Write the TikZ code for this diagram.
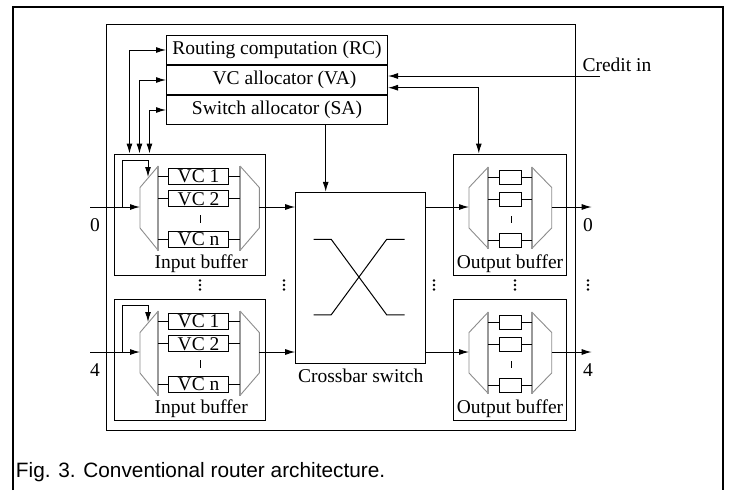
\documentclass[tikz,border=0pt]{standalone}
\usepackage{fontspec}
\setmainfont{Liberation Serif}
\newfontfamily\capfont{Liberation Sans}
\usetikzlibrary{arrows.meta, positioning, calc}

\begin{document}
\begin{tikzpicture}[x=1pt, y=-1pt, line width=1pt,
    >={Latex[length=10pt,width=6pt]},
    lbl/.style={font=\fontsize{19.5}{22}\selectfont, inner sep=1pt},
    box/.style={lbl, draw, inner sep=0pt},
    muxline/.style={draw=black!45, line width=0.9pt, line join=round},
    muxedge/.style={draw=black!40, line width=1.8pt}]
  \useasboundingbox (0,0) rectangle (730,490);
  % Frames
  \draw[line width=1.8pt] (13.3,490) -- (13.3,7.3) -- (723.3,7.3) -- (723.3,490);
  \draw (106.7,24) rectangle (575,430);
  % Allocators
  \node[box, minimum width=221pt, minimum height=29pt] (rc) at (277,50) {Routing computation (RC)};
  \node[box, minimum width=221pt, minimum height=29pt, below=0pt of rc] (va) {\hspace*{15pt}VC allocator (VA)};
  \node[box, minimum width=221pt, minimum height=29pt, below=0pt of va] (sa) {Switch allocator (SA)};
  % Crossbar
  \node[box, minimum width=130pt, minimum height=171pt] (xbar) at (360.7,277.8) {};
  \node[lbl, below=3.5pt of xbar] (xbarlbl) {Crossbar switch};
  \draw[shift={(xbar.center)}] (-47,-38.5) -- (-29.5,-38.5) -- (26,37) -- (44,37);
  \draw[shift={(xbar.center)}] (-47,37) -- (-29.5,37) -- (26,-38.5) -- (44,-38.5);
  % Buffers (two rows)
  \foreach \r/\dy/\port in {a/0/0, b/145/4} {
    % input buffer
    \node[box, minimum width=151.5pt, minimum height=121pt] (inbuf\r) at (190.2,214.5+\dy) {};
    \node[lbl, anchor=south] (inlbl\r) at ([xshift=11pt,yshift=1pt]inbuf\r.south) {Input buffer};
    \draw[muxline] (158.3,166+\dy) -- (140,187.5+\dy) -- (140,228+\dy) -- (158.3,250.5+\dy);
    \draw[muxedge] (158.3,166+\dy) -- (158.3,250.5+\dy);
    \draw[muxline] (240,166+\dy) -- (259.3,187.5+\dy) -- (259.3,228+\dy) -- (240,250.5+\dy);
    \draw[muxedge] (240,166+\dy) -- (240,250.5+\dy);
    \node[box, minimum width=60.5pt, minimum height=15.6pt] (vc1\r) at (198.6,176.2+\dy) {VC 1};
    \node[box, minimum width=60.5pt, minimum height=15.6pt] (vc2\r) at (198.6,198.7+\dy) {VC 2};
    \node[box, minimum width=60.5pt, minimum height=15.6pt] (vcn\r) at (198.6,239.5+\dy) {VC n};
    \coordinate (dmx\r) at (158.3,207+\dy);
    \coordinate (mux\r) at (240,207+\dy);
    \foreach \v in {vc1,vc2,vcn} {
      \draw (\v\r.west -| dmx\r) -- (\v\r.west);
      \draw (\v\r.east) -- (\v\r.east -| mux\r);
    }
    \draw (200,215+\dy) -- (200,223+\dy);
    % input port
    \coordinate (in\r) at (90,207+\dy);
    \coordinate (dmxin\r) at (140,207+\dy);
    \coordinate (fb\r) at (122,207+\dy);
    \draw[->] (in\r) -- (dmxin\r);
    \draw[->] (fb\r) |- ++(26,-47) -- ++(0,17);
    \node[lbl] (inport\r) at (95,225+\dy) {\port};
    \coordinate (muxout\r) at (259.3,207+\dy);
    \draw[->] (muxout\r) -- (muxout\r -| xbar.west);
    % output buffer
    \node[box, minimum width=113.4pt, minimum height=121pt] (outbuf\r) at (510,214.5+\dy) {};
    \node[lbl, anchor=south] (outlbl\r) at ([yshift=1pt]outbuf\r.south) {Output buffer};
    \draw[muxline] (488.3,167+\dy) -- (469,187.5+\dy) -- (469,228+\dy) -- (488.3,248.5+\dy);
    \draw[muxedge] (488.3,167+\dy) -- (488.3,248.5+\dy);
    \draw[muxline] (531.7,167+\dy) -- (551.7,187.5+\dy) -- (551.7,228+\dy) -- (531.7,248.5+\dy);
    \draw[muxedge] (531.7,167+\dy) -- (531.7,248.5+\dy);
    \node[box, minimum width=21.7pt, minimum height=14pt] (ob1\r) at (510.8,177+\dy) {};
    \node[box, minimum width=21.7pt, minimum height=14pt] (ob2\r) at (510.8,199.5+\dy) {};
    \node[box, minimum width=21.7pt, minimum height=14pt] (obn\r) at (510.8,240.5+\dy) {};
    \coordinate (odmx\r) at (488.3,207+\dy);
    \coordinate (omx\r) at (531.7,207+\dy);
    \foreach \v in {ob1,ob2,obn} {
      \draw (\v\r.west -| odmx\r) -- (\v\r.west);
      \draw (\v\r.east) -- (\v\r.east -| omx\r);
    }
    \draw (511,216+\dy) -- (511,223+\dy);
    % output port
    \coordinate (odin\r) at (469,207+\dy);
    \draw[->] (xbar.east |- odin\r) -- (odin\r);
    \coordinate (omux\r) at (551.7,207+\dy);
    \coordinate (out\r) at (591.7,207+\dy);
    \draw[->] (omux\r) -- (out\r);
    \node[lbl] (outport\r) at (588,225+\dy) {\port};
  }
  % Control lines
  \draw[<->] ([xshift=15.5pt]inbufa.north west) |- (rc.west);
  \draw[<->] ([xshift=25.5pt]inbufa.north west) |- (va.west);
  \draw[<->] ([xshift=35.5pt]inbufa.north west) |- (sa.west);
  \coordinate (xtop) at ([xshift=-35pt]xbar.north);
  \draw[->] (sa.south -| xtop) -- (xtop);
  \coordinate (credit) at (600,76);
  \draw[->] (credit) -- (credit -| va.east);
  \node[lbl, anchor=west] (creditlbl) at (581,65) {Credit in};
  \draw[<->] ([xshift=26pt]outbufa.north west) |- ([yshift=-7.7pt]va.east);
  % Dots
  \foreach \x in {200,284,434,515,588}
    \foreach \y in {280.5,285,289.5}
      \fill (\x,\y) circle (1.3pt);
  % Caption
  \node[font=\capfont\fontsize{20.8}{24}\selectfont, anchor=base west, inner sep=0pt] (caption) at (15.5,477.3) {Fig. 3. Conventional router architecture.};
\end{tikzpicture}
\end{document}
